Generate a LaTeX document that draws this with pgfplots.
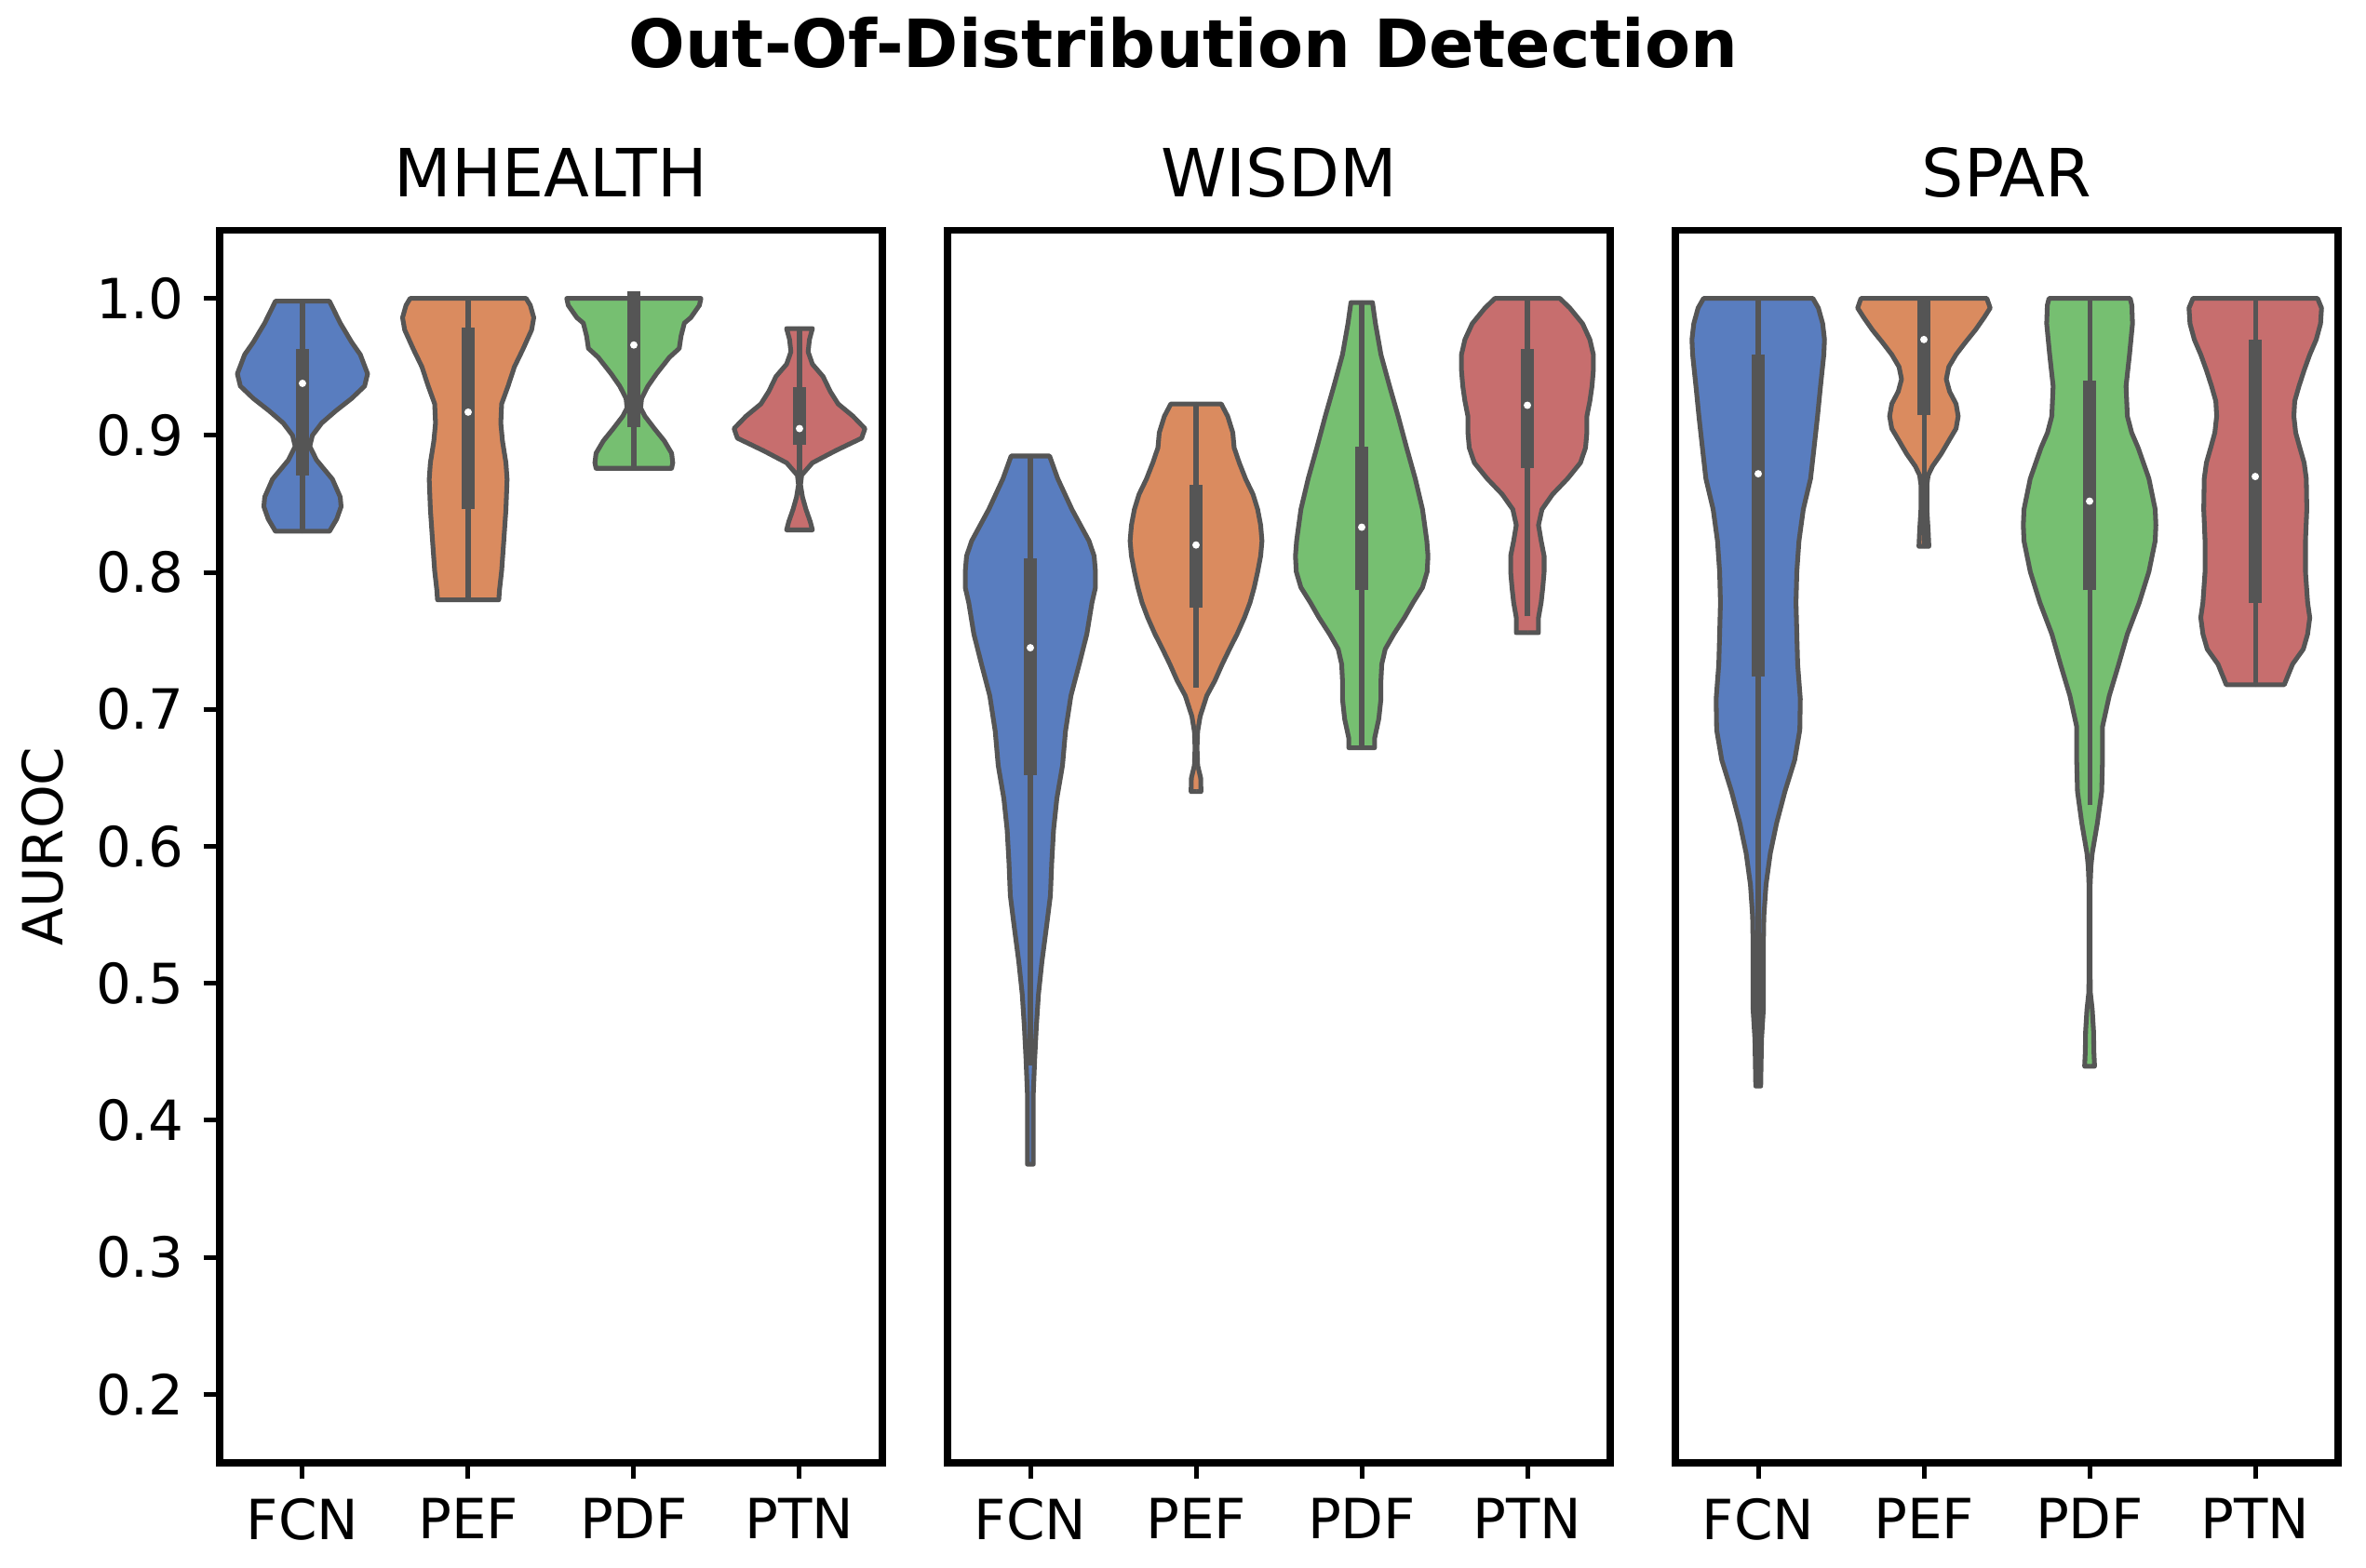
\documentclass[border=0pt]{standalone}
\usepackage{fontspec}
\setmainfont{DejaVu Sans}
\usepackage{pgfplots}
\usepackage{pgfplotstable}
\pgfplotsset{compat=1.18}

\definecolor{vblue}{RGB}{89,125,191}
\definecolor{vorange}{RGB}{218,139,95}
\definecolor{vgreen}{RGB}{118,191,113}
\definecolor{vred}{RGB}{199,110,110}
\definecolor{vgray}{RGB}{85,85,85}

% violin outlines: y and half width w (x units), bottom to top
\pgfplotstableread{
y w
0.830 0
0.830 0.163
0.839 0.207
0.848 0.233
0.855 0.228
0.868 0.181
0.882 0.085
0.892 0.044
0.900 0.060
0.909 0.116
0.918 0.202
0.927 0.297
0.936 0.375
0.945 0.393
0.959 0.349
0.968 0.297
0.982 0.228
0.998 0.163
0.998 0
}\mhFCN
\pgfplotstableread{
y w
0.780 0
0.780 0.185
0.787 0.189
0.801 0.202
0.823 0.215
0.846 0.228
0.868 0.235
0.880 0.228
0.896 0.207
0.909 0.197
0.923 0.202
0.936 0.241
0.950 0.279
0.963 0.331
0.977 0.383
0.986 0.396
0.995 0.375
1.000 0.350
1.000 0
}\mhPEF
\pgfplotstableread{
y w
0.876 0
0.876 0.228
0.880 0.235
0.887 0.228
0.896 0.184
0.905 0.124
0.914 0.067
0.920 0.041
0.927 0.047
0.936 0.085
0.945 0.137
0.957 0.215
0.9635 0.274
0.9725 0.285
0.982 0.305
0.986 0.344
0.995 0.396
1.000 0.405
1.000 0
}\mhPDF
\pgfplotstableread{
y w
0.831 0
0.831 0.078
0.837 0.065
0.846 0.039
0.855 0.018
0.864 0.006
0.871 0.013
0.880 0.078
0.889 0.220
0.898 0.375
0.905 0.395
0.914 0.323
0.923 0.233
0.932 0.186
0.943 0.142
0.952 0.078
0.961 0.052
0.970 0.060
0.978 0.078
0.978 0
}\mhPTN

\pgfplotstableread{
y w
0.368 0
0.368 0.018
0.396 0.018
0.420 0.018
0.444 0.026
0.468 0.036
0.492 0.049
0.516 0.070
0.540 0.096
0.564 0.121
0.588 0.129
0.612 0.140
0.635 0.160
0.659 0.194
0.684 0.212
0.710 0.245
0.733 0.295
0.755 0.341
0.778 0.372
0.789 0.393
0.8005 0.393
0.812 0.385
0.823 0.354
0.846 0.251
0.8685 0.165
0.885 0.116
0.885 0
}\wiFCN
\pgfplotstableread{
y w
0.640 0
0.640 0.030
0.650 0.028
0.659 0.010
0.672 0.006
0.684 0.010
0.695 0.025
0.710 0.065
0.721 0.114
0.733 0.158
0.744 0.202
0.755 0.248
0.767 0.292
0.778 0.326
0.789 0.351
0.8005 0.372
0.812 0.390
0.823 0.398
0.8345 0.390
0.846 0.372
0.857 0.344
0.868 0.300
0.880 0.261
0.891 0.230
0.902 0.222
0.914 0.191
0.923 0.152
0.923 0
}\wiPEF
\pgfplotstableread{
y w
0.672 0
0.672 0.078
0.679 0.078
0.693 0.103
0.7075 0.116
0.721 0.116
0.733 0.121
0.744 0.142
0.755 0.194
0.767 0.258
0.778 0.310
0.789 0.367
0.8005 0.395
0.812 0.400
0.823 0.393
0.846 0.367
0.8685 0.323
0.891 0.271
0.914 0.220
0.936 0.168
0.959 0.116
0.9816 0.083
0.997 0.065
0.997 0
}\wiPDF
\pgfplotstableread{
y w
0.756 0
0.756 0.067
0.767 0.067
0.778 0.083
0.789 0.093
0.8005 0.101
0.812 0.101
0.823 0.083
0.8345 0.067
0.846 0.088
0.857 0.152
0.8685 0.243
0.880 0.320
0.891 0.351
0.902 0.359
0.914 0.359
0.925 0.377
0.936 0.390
0.9476 0.398
0.959 0.398
0.970 0.377
0.9816 0.333
0.993 0.256
1.000 0.196
1.000 0
}\wiPTN

\pgfplotstableread{
y w
0.425 0
0.425 0.015
0.459 0.020
0.481 0.031
0.504 0.031
0.527 0.031
0.549 0.034
0.572 0.047
0.595 0.073
0.617 0.111
0.640 0.161
0.663 0.220
0.685 0.251
0.7077 0.254
0.733 0.238
0.755 0.233
0.778 0.228
0.8005 0.233
0.823 0.246
0.846 0.272
0.8685 0.316
0.891 0.337
0.914 0.358
0.936 0.376
0.959 0.396
0.970 0.400
0.9816 0.389
0.993 0.363
1.000 0.330
1.000 0
}\spFCN
\pgfplotstableread{
y w
0.819 0
0.819 0.030
0.830 0.026
0.846 0.018
0.864 0.018
0.871 0.026
0.8775 0.052
0.8865 0.104
0.896 0.150
0.905 0.194
0.914 0.207
0.923 0.194
0.932 0.155
0.941 0.135
0.950 0.150
0.959 0.194
0.968 0.251
0.977 0.311
0.986 0.363
0.993 0.400
1.000 0.380
1.000 0
}\spPEF
\pgfplotstableread{
y w
0.4395 0
0.4395 0.030
0.450 0.026
0.465 0.024
0.481 0.016
0.493 0.005
0.510 0.003
0.570 0.003
0.585 0.008
0.595 0.016
0.617 0.047
0.640 0.073
0.663 0.078
0.6875 0.078
0.710 0.119
0.733 0.176
0.755 0.228
0.778 0.300
0.8005 0.358
0.823 0.396
0.8345 0.400
0.846 0.396
0.8685 0.358
0.891 0.293
0.902 0.254
0.914 0.228
0.936 0.220
0.959 0.241
0.9816 0.259
0.995 0.255
1.000 0.245
1.000 0
}\spPDF
\pgfplotstableread{
y w
0.718 0
0.718 0.175
0.733 0.225
0.744 0.290
0.755 0.316
0.767 0.329
0.778 0.316
0.8005 0.303
0.823 0.303
0.846 0.311
0.8685 0.308
0.880 0.295
0.891 0.269
0.902 0.244
0.914 0.233
0.925 0.238
0.936 0.264
0.9476 0.295
0.959 0.329
0.970 0.368
0.9816 0.394
0.993 0.400
1.000 0.376
1.000 0
}\spPTN

% #1 position, #2 colour, #3 table, #4/#5 whisker ends, #6/#7 quartiles, #8 median
\newcommand{\violin}[8]{%
  \addplot[fill=#2, draw=vgray, line width=0.85pt, line join=round]
    table[x expr={#1+\thisrow{w}}, y=y] {#3};
  \addplot[fill=#2, draw=vgray, line width=0.85pt, line join=round]
    table[x expr={#1-\thisrow{w}}, y=y] {#3};
  \addplot[vgray, line width=0.85pt] coordinates {(#1,#4) (#1,#5)};
  \addplot[vgray, line width=2.5pt] coordinates {(#1,#6) (#1,#7)};
  \addplot[only marks, mark=*, mark size=0.45pt,
    mark options={fill=white, draw=white}] coordinates {(#1,#8)};
}

\pgfplotsset{
  panel/.style={
    width=119.67pt, height=222.69pt, scale only axis,
    xmin=-0.5, xmax=3.5, ymin=0.15, ymax=1.05,
    xtick={0,1,2,3}, xticklabels={FCN,PEF,PDF,PTN},
    xtick pos=left, ytick pos=left,
    tick align=outside, major tick length=2.9pt,
    every tick/.style={black, line width=0.84pt},
    axis line style={line width=1.2pt},
    ticklabel style={font=\fontsize{10}{12}\selectfont},
    title style={font=\fontsize{12}{14.4}\selectfont, at={(0.5,1)}, anchor=base},
    anchor=south west,
  },
}

\begin{document}
\begin{tikzpicture}
\useasboundingbox (-39.66pt,-18.82pt) rectangle (387.57pt,264.21pt);

\begin{axis}[panel, at={(0pt,0pt)}, title={MHEALTH},
  ytick={0.2,0.3,0.4,0.5,0.6,0.7,0.8,0.9,1.0},
  yticklabel style={/pgf/number format/.cd, fixed, fixed zerofill, precision=1, assume math mode=true},
  ylabel={AUROC},
  ylabel style={at={(axis description cs:-0.236,0.5)}, anchor=base, font=\fontsize{10}{12}\selectfont}]
\violin{0}{vblue}{\mhFCN}{0.830}{0.998}{0.871}{0.963}{0.938}
\violin{1}{vorange}{\mhPEF}{0.780}{1.000}{0.846}{0.979}{0.917}
\violin{2}{vgreen}{\mhPDF}{0.876}{1.000}{0.906}{1.005}{0.966}
\violin{3}{vred}{\mhPTN}{0.870}{0.978}{0.893}{0.935}{0.905}
\end{axis}

\begin{axis}[panel, at={(131.43pt,0pt)}, title={WISDM}, ytick=\empty]
\violin{0}{vblue}{\wiFCN}{0.440}{0.885}{0.652}{0.810}{0.745}
\violin{1}{vorange}{\wiPEF}{0.716}{0.923}{0.774}{0.864}{0.820}
\violin{2}{vgreen}{\wiPDF}{0.672}{0.997}{0.787}{0.892}{0.833}
\violin{3}{vred}{\wiPTN}{0.768}{1.000}{0.876}{0.963}{0.922}
\end{axis}

\begin{axis}[panel, at={(262.86pt,0pt)}, title={SPAR}, ytick=\empty]
\violin{0}{vblue}{\spFCN}{0.425}{1.000}{0.724}{0.959}{0.872}
\violin{1}{vorange}{\spPEF}{0.819}{1.000}{0.915}{1.000}{0.970}
\violin{2}{vgreen}{\spPDF}{0.630}{1.000}{0.787}{0.940}{0.852}
\violin{3}{vred}{\spPTN}{0.718}{1.000}{0.778}{0.970}{0.870}
\end{axis}

\node[anchor=base, font=\bfseries\fontsize{12}{14.4}\selectfont] at (174.0pt,252.0pt) {Out-Of-Distribution Detection};
\end{tikzpicture}
\end{document}
